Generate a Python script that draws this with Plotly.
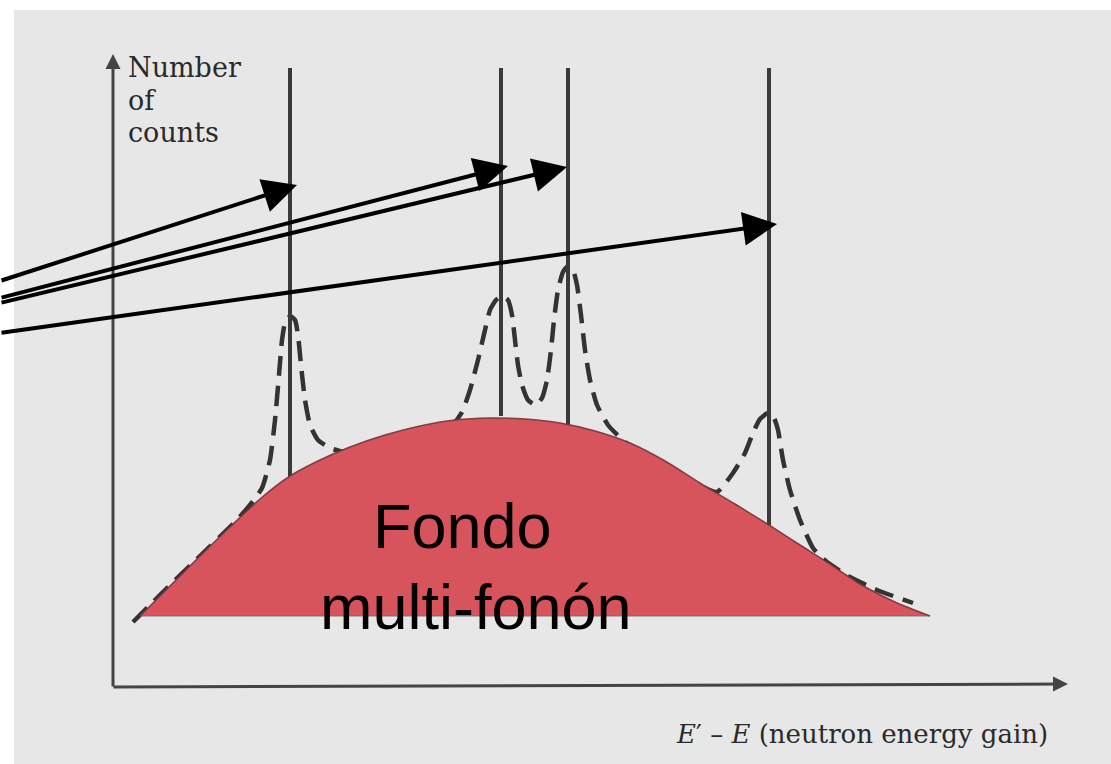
import plotly.graph_objects as go

W, H = 1111, 764

# Delta peaks (sharp lines): x position, top and bottom (picture units, y down)
peak_x = [290, 501, 568, 769]
peak_top = [68, 68, 68, 68]
peak_bottom = [480, 416, 426, 525]

# Multi-phonon background (red filled region), top edge
bg_x = [140, 170, 200, 230, 260, 290, 320, 350, 385, 420, 455, 490, 525, 560, 595,
        630, 665, 700, 735, 769, 800, 830, 860, 895, 930]
bg_y = [616, 586, 556, 527, 499, 476, 460, 447, 435, 426, 420, 418, 419, 423, 431,
        443, 461, 483, 504, 525, 545, 564, 584, 602, 616]
bg_base = 616

# Dashed measured spectrum
dash_x = [133, 165, 200, 235, 250, 262, 270, 275, 279, 282, 285, 290, 295, 298, 301,
          305, 310, 318, 330, 345, 380, 420, 450, 462, 470, 478, 485, 490, 496, 502,
          508, 512, 515, 518, 522, 528, 536, 542, 547, 551, 554, 558, 563, 568, 573,
          577, 581, 585, 590, 597, 608, 625, 660, 700, 717, 733, 745, 753, 760, 768,
          774, 778, 783, 790, 800, 813, 827, 850, 877, 913]
dash_y = [622, 590, 556, 522, 505, 488, 460, 420, 375, 340, 323, 316, 320, 335, 365,
          400, 425, 440, 448, 452, 448, 438, 428, 412, 390, 360, 330, 310, 300, 296,
          300, 315, 340, 365, 385, 400, 405, 398, 380, 350, 320, 290, 272, 266, 270,
          285, 315, 350, 380, 405, 425, 442, 462, 486, 492, 473, 453, 433, 419, 413,
          418, 430, 460, 490, 520, 548, 562, 577, 590, 603]

# Annotation arrows: tail (left edge) -> tip
arrow_tail_x = [0, 0, 0, 0]
arrow_tail_y = [281, 298, 303, 333]
arrow_tip_x = [297, 508, 567, 777]
arrow_tip_y = [185, 166, 167, 224]

# Axes (picture units)
axis_origin = (113, 687)
yaxis_tip = (113, 54)
xaxis_tip = (1068, 684)

ylabel_lines = ["Number", "of", "counts"]
ylabel_y = [67, 100, 132]
xlabel = "<i>E</i>′ – <i>E</i> (neutron energy gain)"
bg_label = ["Fondo", "multi-fonón"]
bg_label_x = [462, 476]
bg_label_y = [526, 607]

ink = "#333333"

fig = go.Figure()

# paper background
fig.add_shape(type="rect", x0=14, x1=W, y0=10, y1=H, xref="x", yref="y",
              fillcolor="#e7e7e7", line=dict(width=0), layer="below")

# dashed curve
fig.add_trace(go.Scatter(x=dash_x, y=dash_y, mode="lines",
                         line=dict(color=ink, width=4.5, dash="20px,10px", shape="spline", smoothing=0.5),
                         hoverinfo="skip"))

# delta lines
vx, vy = [], []
for x, t, b in zip(peak_x, peak_top, peak_bottom):
    vx += [x, x, None]
    vy += [t, b, None]
fig.add_trace(go.Scatter(x=vx, y=vy, mode="lines", line=dict(color="#3a3a3a", width=4),
                         hoverinfo="skip"))

# red background fill: baseline then top edge filled to it
fig.add_trace(go.Scatter(x=[bg_x[0], bg_x[-1]], y=[bg_base, bg_base], mode="lines",
                         line=dict(color="rgba(110,110,110,0.9)", width=1.2), hoverinfo="skip"))
fig.add_trace(go.Scatter(x=bg_x, y=bg_y, mode="lines", fill="tonexty",
                         fillcolor="rgb(215,84,92)",
                         line=dict(color="rgba(120,50,55,0.9)", width=1.5, shape="spline", smoothing=0.8),
                         hoverinfo="skip"))

ann = []
# axes with small arrowheads
ann.append(dict(x=yaxis_tip[0], y=yaxis_tip[1], ax=axis_origin[0], ay=axis_origin[1] + 1,
                xref="x", yref="y", axref="x", ayref="y", text="", showarrow=True,
                arrowhead=2, arrowsize=1.0, arrowwidth=3, arrowcolor="#444444"))
ann.append(dict(x=xaxis_tip[0], y=xaxis_tip[1], ax=axis_origin[0] - 1, ay=axis_origin[1],
                xref="x", yref="y", axref="x", ayref="y", text="", showarrow=True,
                arrowhead=2, arrowsize=1.0, arrowwidth=3, arrowcolor="#444444"))

# black pointer arrows
for tx, ty, hx, hy in zip(arrow_tail_x, arrow_tail_y, arrow_tip_x, arrow_tip_y):
    ann.append(dict(x=hx, y=hy, ax=tx, ay=ty, xref="x", yref="y", axref="x", ayref="y",
                    text="", showarrow=True, arrowhead=2, arrowsize=1.7, arrowwidth=4,
                    arrowcolor="black"))

# y label
for t, y in zip(ylabel_lines, ylabel_y):
    ann.append(dict(x=126, y=y, xref="x", yref="y", text=t, showarrow=False,
                    xanchor="left", yanchor="middle",
                    font=dict(family="DejaVu Serif", size=27, color="#2a2a2a")))
# x label
ann.append(dict(x=1050, y=734, xref="x", yref="y", text=xlabel, showarrow=False,
                xanchor="right", yanchor="middle",
                font=dict(family="DejaVu Serif", size=26, color="#2a2a2a")))
# background label
for t, x, y in zip(bg_label, bg_label_x, bg_label_y):
    ann.append(dict(x=x, y=y, xref="x", yref="y", text=t, showarrow=False,
                    xanchor="center", yanchor="middle",
                    font=dict(family="Liberation Sans", size=63, color="black")))

fig.update_layout(
    width=W, height=H, margin=dict(l=0, r=0, t=0, b=0),
    paper_bgcolor="white", plot_bgcolor="rgba(0,0,0,0)",
    showlegend=False, annotations=ann,
    xaxis=dict(range=[0, W], visible=False, fixedrange=True),
    yaxis=dict(range=[H, 0], visible=False, fixedrange=True),
)

fig.write_html("out.html", config={"displayModeBar": False},
               post_script="document.body.style.margin='0';document.body.style.overflow='hidden';")
